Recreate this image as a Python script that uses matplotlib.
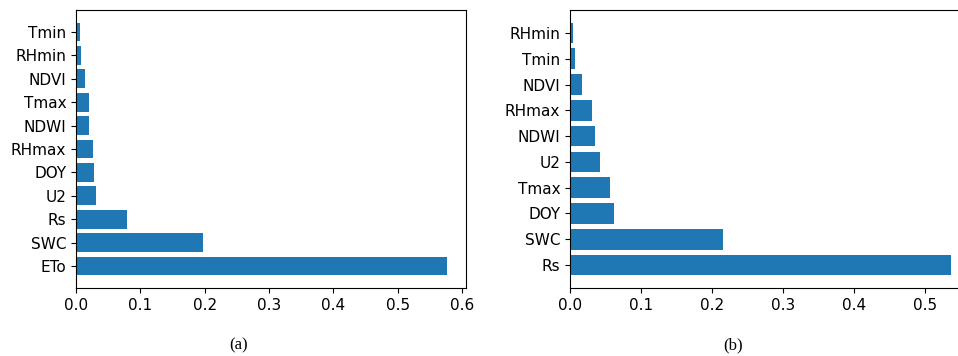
import matplotlib
matplotlib.use('Agg')
import matplotlib.pyplot as plt

# feature importances, model (a)
feat_a = ['ETo', 'SWC', 'Rs', 'U2', 'DOY', 'RHmax', 'NDWI', 'Tmax', 'NDVI', 'RHmin', 'Tmin']
imp_a = [0.577, 0.197, 0.079, 0.031, 0.028, 0.026, 0.0198, 0.020, 0.014, 0.0078, 0.0062]

# feature importances, model (b)
feat_b = ['Rs', 'SWC', 'DOY', 'Tmax', 'U2', 'NDWI', 'RHmax', 'NDVI', 'Tmin', 'RHmin']
imp_b = [0.5366, 0.2155, 0.062, 0.056, 0.042, 0.035, 0.031, 0.017, 0.007, 0.0038]

W, H = 958.0, 356.0
fig = plt.figure(figsize=(W / 100, H / 100), dpi=100)

def px_axes(left, top, right, bottom):
    return fig.add_axes([left / W, 1 - bottom / H, (right - left) / W, (bottom - top) / H])

ax1 = px_axes(76, 10, 466, 288)
ax2 = px_axes(570, 10, 970, 288)

for ax, names, vals in ((ax1, feat_a, imp_a), (ax2, feat_b, imp_b)):
    ax.barh(names, vals, color='#1f77b4')
    ax.tick_params(labelsize=11)

ax1.set_xticks([0, 0.1, 0.2, 0.3, 0.4, 0.5, 0.6])
ax2.set_xticks([0, 0.1, 0.2, 0.3, 0.4, 0.5])

fig.text(239 / W, 1 - 345 / H, '(a)', family='Liberation Serif', fontsize=12,
         ha='center', va='center')
fig.text(733 / W, 1 - 345 / H, '(b)', family='Liberation Serif', fontsize=12,
         ha='center', va='center')

fig.savefig('out.png', dpi=100)
